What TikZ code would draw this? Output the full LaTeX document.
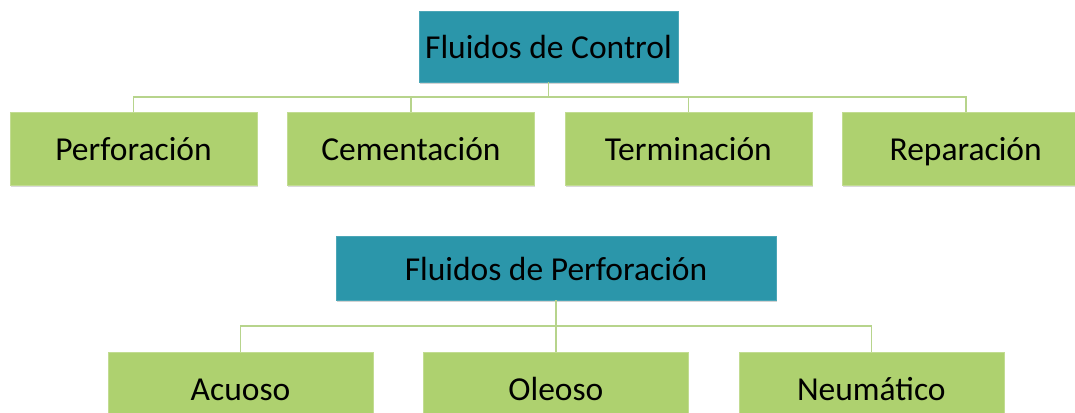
\documentclass[tikz,border=0pt]{standalone}
\usepackage{fontspec}
\setmainfont{Carlito}
\usepackage{tikz}
\usetikzlibrary{positioning, shadows, calc}

\definecolor{rootteal}{HTML}{2B96AA}
\definecolor{leafgreen}{HTML}{AED16F}
\definecolor{leafborder}{HTML}{C2DC92}
\definecolor{linkgreen}{HTML}{B7D48C}

\begin{document}
\begin{tikzpicture}[
            x=1pt, y=-1pt,
            root/.style={rectangle, fill=rootteal, draw=rootteal!85!white, inner sep=0pt,
                text height=30pt, text depth=6pt,
                drop shadow={opacity=0.35, shadow xshift=1pt, shadow yshift=-2pt}, font=\fontsize{33.5}{38}\selectfont},
            leaf/.style={rectangle, fill=leafgreen, draw=leafborder, inner sep=0pt,
                text height=30pt, text depth=6pt,
                drop shadow={opacity=0.3, shadow xshift=1pt, shadow yshift=-2pt}, font=\fontsize{33.5}{38}\selectfont},
            link/.style={draw=linkgreen, line width=1.6pt}
        ]

        \useasboundingbox (0,0) rectangle (1075,412);

        % Fluidos de Control
        \node[root, minimum width=259pt, minimum height=71pt] (ctrl) at (548.5,46.5) {Fluidos de Control};
        \node[leaf, minimum width=247pt, minimum height=73pt] (perf) at (133.5,148.5) {Perforación};
        \node[leaf, minimum width=247pt, minimum height=73pt, right=30pt of perf] (cem) {Cementación};
        \node[leaf, minimum width=247pt, minimum height=73pt, right=30pt of cem] (term) {Terminación};
        \node[leaf, minimum width=247pt, minimum height=73pt, right=30pt of term] (rep) {Reparación};

        % Fluidos de Perforacion
        \node[root, minimum width=440pt, minimum height=64pt] (fperf) at (556,268) {Fluidos de Perforación};
        \node[leaf, minimum width=265pt, minimum height=72pt] (acu) at (240.5,388) {Acuoso};
        \node[leaf, minimum width=265pt, minimum height=72pt, right=50pt of acu] (ole) {Oleoso};
        \node[leaf, minimum width=265pt, minimum height=72pt, right=50pt of ole] (neu) {Neumático};

        % Verbindungen
        \foreach \child in {perf, cem, term, rep}
            \draw[link] (ctrl.south) -- ++(0,15) -| (\child.north);
        \foreach \child in {acu, ole, neu}
            \draw[link] (fperf.south) -- ++(0,26) -| (\child.north);

    \end{tikzpicture}
\end{document}
